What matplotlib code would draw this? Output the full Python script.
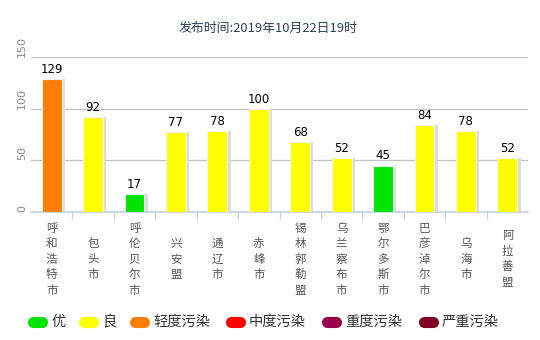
import matplotlib
matplotlib.use('Agg')
import matplotlib.pyplot as plt
from matplotlib.lines import Line2D
import numpy as np

plt.rcParams['font.family'] = ['Noto Sans CJK SC', 'DejaVu Sans']

# data
cities = ['呼和浩特市', '包头市', '呼伦贝尔市', '兴安盟', '通辽市', '赤峰市',
          '锡林郭勒盟', '乌兰察布市', '鄂尔多斯市', '巴彦淖尔市', '乌海市', '阿拉善盟']
aqi = [129, 92, 17, 77, 78, 100, 68, 52, 45, 84, 78, 52]
level_names = ['优', '良', '轻度污染', '中度污染', '重度污染', '严重污染']
level_colors = ['#00e400', '#ffff00', '#ff7e00', '#ff0000', '#99004c', '#7e0023']
level_limits = [50, 100, 150, 200, 300]
yticks = [0, 50, 100, 150]
title = '发布时间:2019年10月22日19时'


def level_of(v):
    for i, lim in enumerate(level_limits):
        if v <= lim:
            return i
    return len(level_limits)


fig = plt.figure(figsize=(5.4, 3.4), dpi=100)
ax = fig.add_axes([31/540, 128/340, 497/540, 155/340])

x = np.arange(len(cities))
cols = [level_colors[level_of(v)] for v in aqi]

# shadow then bar
ax.bar(x + 0.06, aqi, width=0.52, color='#dcdcdc', zorder=2)
ax.bar(x, aqi, width=0.48, color=cols, edgecolor='#f4f4f4', linewidth=0.8, zorder=3)

for xi, v in zip(x, aqi):
    ax.text(xi, v + 3, str(v), ha='center', va='bottom', fontsize=8.5,
            color='#000000', family='DejaVu Sans', zorder=4)

ax.set_xlim(-0.5, len(cities) - 0.5)
ax.set_ylim(0, 150)
ax.set_yticks(yticks)
ax.set_yticklabels([str(t) for t in yticks], rotation=90, va='bottom',
                   fontsize=8, color='#888888', family='DejaVu Sans')
ax.tick_params(axis='y', length=0, pad=3)
ax.yaxis.grid(True, color='#c0c0c0', linewidth=0.9)
ax.set_axisbelow(True)

ax.set_xticks(x)
ax.set_xticklabels(['\n'.join(c) for c in cities], fontsize=8.3, color='#555555',
                   va='center', linespacing=1.25)
ax.tick_params(axis='x', length=0, pad=34)
ax.set_xticks(np.arange(len(cities) - 1) + 0.5, minor=True)
ax.tick_params(axis='x', which='minor', length=5, color='#c0d0e0', width=0.9)

for s in ['top', 'right', 'left']:
    ax.spines[s].set_visible(False)
ax.spines['bottom'].set_color('#c0d0e0')
ax.spines['bottom'].set_linewidth(1.2)

fig.text(268/540, 1 - 28/340, title, ha='center', va='center', fontsize=9.3, color='#2e3e5c')

# legend - pill markers as thick round-capped lines
leg_x = [27, 78, 129, 225, 321, 418]
for lx, name, c in zip(leg_x, level_names, level_colors):
    ln = Line2D([(lx + 5.5)/540, (lx + 14.5)/540], [1 - 322/340, 1 - 322/340],
                transform=fig.transFigure, color=c, linewidth=8,
                solid_capstyle='round')
    fig.lines.append(ln)
    fig.text((lx + 24)/540, 1 - 322/340, name, ha='left', va='center',
             fontsize=10.3, color='#333333')

fig.savefig('out.png', dpi=100)
